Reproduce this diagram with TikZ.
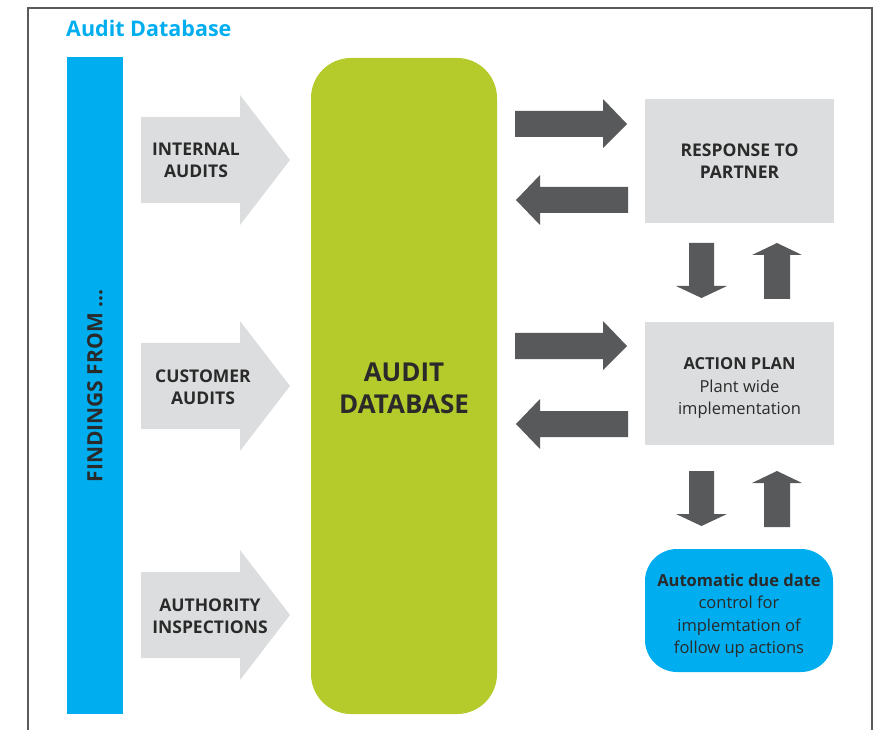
\documentclass[tikz,border=0pt]{standalone}
\usepackage{fontspec}
\setmainfont{Open Sans}
\begin{document}
\definecolor{cyanblue}{HTML}{00AEEF}
\definecolor{lime}{HTML}{B5CA2B}
\definecolor{lightgray}{HTML}{DCDDDE}
\definecolor{darkarrow}{HTML}{58595B}
\definecolor{ink}{HTML}{2A2A2A}
\definecolor{framegray}{HTML}{5A5A5A}
\begin{tikzpicture}[x=1pt,y=-1pt,
  box/.style={fill=lightgray,draw=none,minimum width=189pt,inner sep=0pt},
  boxtext/.style={align=center,text=ink,font=\fontsize{16.5}{22.5}\selectfont},
  lbl/.style={align=center,text=ink,font=\fontsize{17.5}{22}\selectfont\bfseries},
  inarrow/.style={fill=lightgray},
  darrow/.style={fill=darkarrow}]
\useasboundingbox (0,0) rectangle (887,730);
% outer frame (open at the bottom)
\draw[framegray,line width=1.4pt] (28,730) -- (28,8) -- (872,8) -- (872,730);
% title
\node[anchor=west,inner sep=0pt,text=cyanblue,font=\fontsize{21.5}{26}\selectfont\bfseries] (title) at (66,28) {Audit Database};
% vertical bar
\node[fill=cyanblue,minimum width=56pt,minimum height=657pt,inner sep=0pt] (bar) at (95,385.5) {};
\node[rotate=90,text=ink,font=\fontsize{21}{26}\selectfont\bfseries] (barlabel) at (95,386) {FINDINGS FROM ...};
% central database
\node[fill=lime,rounded corners=40pt,minimum width=186pt,minimum height=656pt,inner sep=0pt] (db) at (404,386) {};
\node[align=center,text=ink,font=\fontsize{26}{32}\selectfont\bfseries] (dblabel) at (404,388) {AUDIT\\DATABASE};
% input arrows
\fill[inarrow] (141,117) -- (240,117) -- (240,95) -- (290,160) -- (240,225) -- (240,203) -- (141,203) -- cycle;
\fill[inarrow] (141,343) -- (240,343) -- (240,321) -- (290,386) -- (240,451) -- (240,429) -- (141,429) -- cycle;
\fill[inarrow] (141,572) -- (240,572) -- (240,550) -- (290,615) -- (240,680) -- (240,658) -- (141,658) -- cycle;
\node[lbl] (internal) at (196,160) {INTERNAL\\AUDITS};
\node[lbl] (customer) at (203,387) {CUSTOMER\\AUDITS};
\node[lbl] (authority) at (210,616) {AUTHORITY\\INSPECTIONS};
% right-hand boxes
\node[box,minimum height=124pt] (resp) at (739.5,161) {};
\node[boxtext,font=\fontsize{17.5}{22}\selectfont\bfseries] (resptext) at (739.5,161) {RESPONSE TO\\PARTNER};
\node[box,minimum height=122pt] (plan) at (739.5,383.5) {};
\node[boxtext] (plantext) at (739.5,388) {\textbf{ACTION PLAN}\\Plant wide\\implementation};
\node[fill=cyanblue,rounded corners=32pt,minimum width=188pt,minimum height=123pt,inner sep=0pt] (due) at (739,610.5) {};
\node[boxtext] (duetext) at (739,615.5) {\textbf{Automatic due date}\\control for\\implemtation of\\follow up actions};
% arrows between database and response box
\fill[darrow] (515,111) -- (603,111) -- (603,99) -- (627,124) -- (603,148) -- (603,137) -- (515,137) -- cycle;
\fill[darrow] (628,187) -- (540,187) -- (540,175) -- (516,200) -- (540,225) -- (540,213) -- (628,213) -- cycle;
% arrows between database and action plan
\fill[darrow] (515,333) -- (603,333) -- (603,321) -- (627,346) -- (603,370) -- (603,359) -- (515,359) -- cycle;
\fill[darrow] (628,411) -- (540,411) -- (540,399) -- (516,424) -- (540,449) -- (540,437) -- (628,437) -- cycle;
% arrows between response box and action plan
\fill[darrow] (689,243) -- (714,243) -- (714,286) -- (727,286) -- (701.5,298) -- (676,286) -- (689,286) -- cycle;
\fill[darrow] (764,299) -- (790,299) -- (790,255) -- (802,255) -- (777,243) -- (752,255) -- (764,255) -- cycle;
% arrows between action plan and due date control
\fill[darrow] (689,471) -- (714,471) -- (714,514) -- (727,514) -- (701.5,526) -- (676,514) -- (689,514) -- cycle;
\fill[darrow] (764,527) -- (790,527) -- (790,483) -- (802,483) -- (777,471) -- (752,483) -- (764,483) -- cycle;
\end{tikzpicture}
\end{document}
